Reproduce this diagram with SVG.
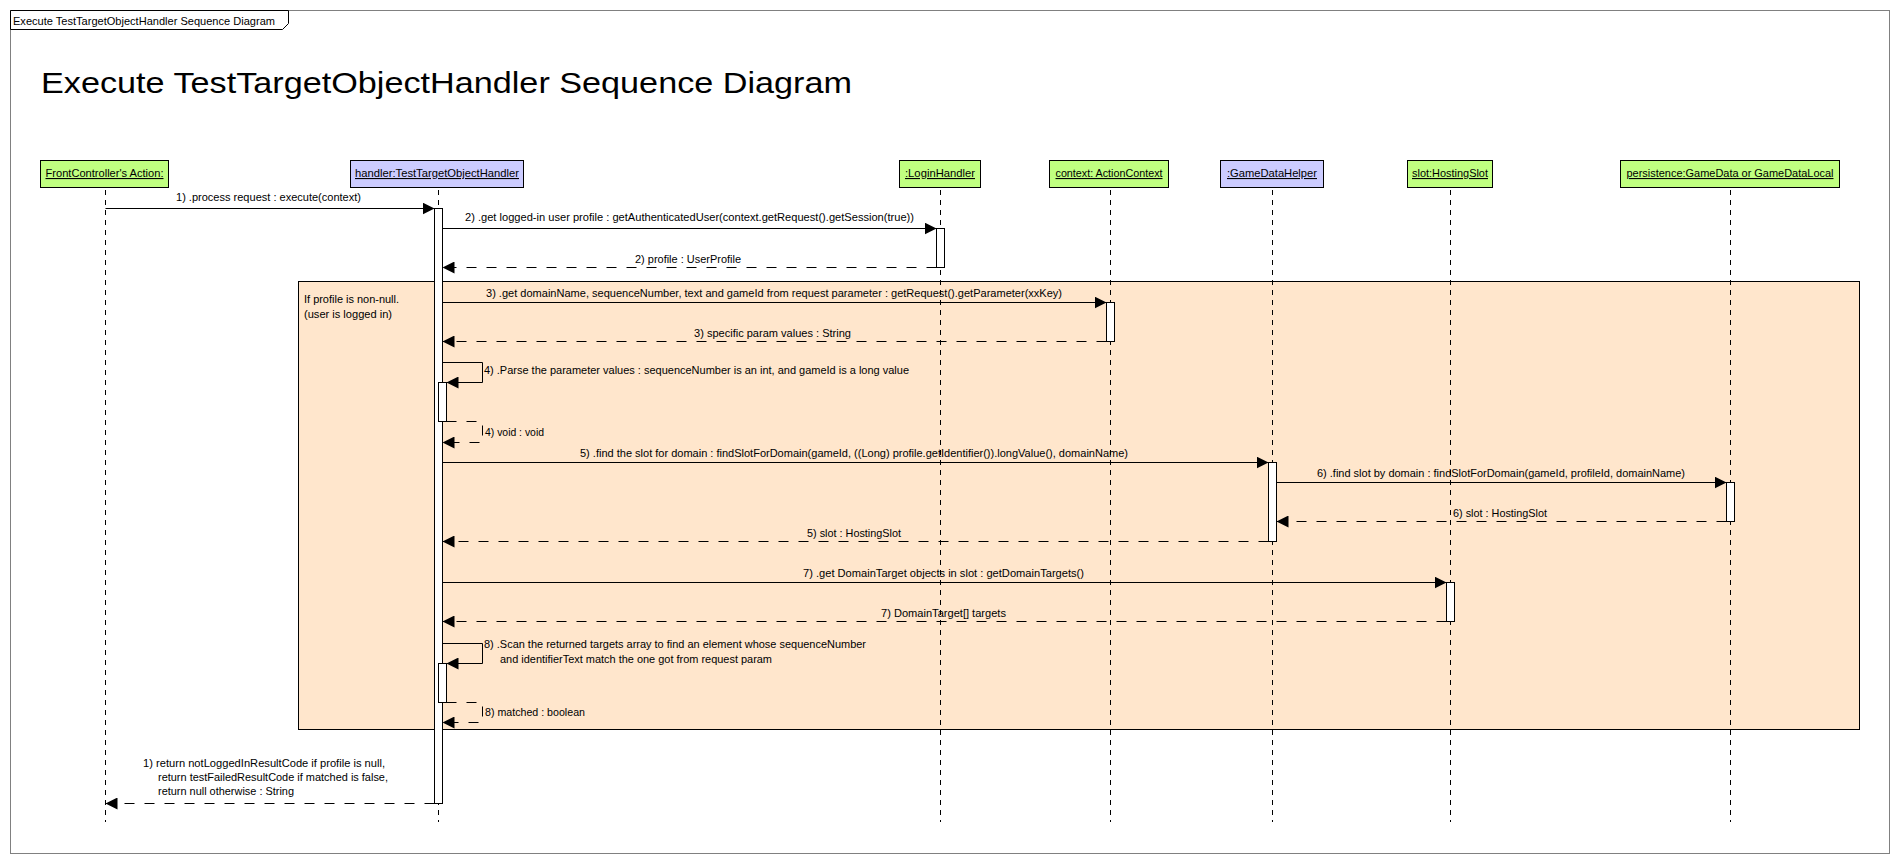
<svg xmlns="http://www.w3.org/2000/svg" width="1900" height="864" viewBox="0 0 1900 864">
<defs>
<style>
text{font-family:"Liberation Sans",Arial,sans-serif;font-size:11px;fill:#000}
.title{font-size:29px}
.box{stroke:#000;stroke-width:1}
.green{fill:#c0ff80}
.blue{fill:#ccccff}
.nlabel{text-anchor:middle;text-decoration:underline}
.life{stroke:#000;stroke-width:1;stroke-dasharray:5 5;fill:none}
.act{fill:#fff;stroke:#000;stroke-width:1}
.msg{stroke:#000;stroke-width:1;fill:none;marker-end:url(#arr)}
.ret{stroke:#000;stroke-width:1;fill:none;stroke-dasharray:10 10;marker-end:url(#arr)}
</style>
<marker id="arr" markerUnits="userSpaceOnUse" markerWidth="12" markerHeight="12" refX="12" refY="6" orient="auto">
<path d="M0,0 L12,6 L0,12 Z" fill="#000" stroke="none"/>
</marker>
</defs>
<rect x="0" y="0" width="1900" height="864" fill="#fff"/>
<g id="frame">
<rect x="10.5" y="10.5" width="1879" height="843" fill="#fff" stroke="#808080"/>
<polygon points="10.5,10.5 288.5,10.5 288.5,23.5 282.5,29.5 10.5,29.5" fill="#fff" stroke="#000"/>
<text x="13" y="25" textLength="262" lengthAdjust="spacingAndGlyphs">Execute TestTargetObjectHandler Sequence Diagram</text>
<text class="title" x="41" y="93" textLength="811" lengthAdjust="spacingAndGlyphs">Execute TestTargetObjectHandler Sequence Diagram</text>
</g>
<g id="fragment">
<rect x="298.5" y="281.5" width="1561" height="448" fill="#ffe6cc" stroke="#000"/>
<text x="304" y="303" textLength="95" lengthAdjust="spacingAndGlyphs">If profile is non-null.</text>
<text x="304" y="318" textLength="88" lengthAdjust="spacingAndGlyphs">(user is logged in)</text>
</g>
<g id="lifelines">
<line class="life" x1="105.5" y1="190" x2="105.5" y2="822"/>
<line class="life" x1="438.5" y1="190" x2="438.5" y2="822"/>
<line class="life" x1="940.5" y1="190" x2="940.5" y2="822"/>
<line class="life" x1="1110.5" y1="190" x2="1110.5" y2="822"/>
<line class="life" x1="1272.5" y1="190" x2="1272.5" y2="822"/>
<line class="life" x1="1450.5" y1="190" x2="1450.5" y2="822"/>
<line class="life" x1="1730.5" y1="190" x2="1730.5" y2="822"/>
</g>
<g id="node-frontcontroller">
<rect class="box green" x="40.5" y="160.5" width="128" height="27"/>
<text class="nlabel" x="104.5" y="177" textLength="118" lengthAdjust="spacingAndGlyphs">FrontController's Action:</text>
</g>
<g id="node-handler">
<rect class="box blue" x="350.5" y="160.5" width="173" height="27"/>
<text class="nlabel" x="437" y="177" textLength="164" lengthAdjust="spacingAndGlyphs">handler:TestTargetObjectHandler</text>
</g>
<g id="node-loginhandler">
<rect class="box green" x="899.5" y="160.5" width="81" height="27"/>
<text class="nlabel" x="940" y="177" textLength="70" lengthAdjust="spacingAndGlyphs">:LoginHandler</text>
</g>
<g id="node-context">
<rect class="box green" x="1049.5" y="160.5" width="119" height="27"/>
<text class="nlabel" x="1109" y="177" textLength="107" lengthAdjust="spacingAndGlyphs">context: ActionContext</text>
</g>
<g id="node-gamedatahelper">
<rect class="box blue" x="1220.5" y="160.5" width="103" height="27"/>
<text class="nlabel" x="1272" y="177" textLength="90" lengthAdjust="spacingAndGlyphs">:GameDataHelper</text>
</g>
<g id="node-slot">
<rect class="box green" x="1407.5" y="160.5" width="85" height="27"/>
<text class="nlabel" x="1450" y="177" textLength="76" lengthAdjust="spacingAndGlyphs">slot:HostingSlot</text>
</g>
<g id="node-persistence">
<rect class="box green" x="1620.5" y="160.5" width="219" height="27"/>
<text class="nlabel" x="1730" y="177" textLength="207" lengthAdjust="spacingAndGlyphs">persistence:GameData or GameDataLocal</text>
</g>
<g id="activations">
<rect class="act" x="434.5" y="208.5" width="8" height="595"/>
<rect class="act" x="936.5" y="228.5" width="8" height="39"/>
<rect class="act" x="1106.5" y="302.5" width="8" height="39"/>
<rect class="act" x="438.5" y="382.5" width="8" height="39"/>
<rect class="act" x="1268.5" y="462.5" width="8" height="79"/>
<rect class="act" x="1726.5" y="482.5" width="8" height="39"/>
<rect class="act" x="1446.5" y="582.5" width="8" height="39"/>
<rect class="act" x="438.5" y="663.5" width="8" height="39"/>
</g>
<g id="connectors">
<line class="msg" x1="105.5" y1="208.5" x2="434.5" y2="208.5"/>
<line class="msg" x1="442.5" y1="228.5" x2="936.5" y2="228.5"/>
<line class="ret" x1="936.5" y1="267.5" x2="442.5" y2="267.5"/>
<line class="msg" x1="442.5" y1="302.5" x2="1106.5" y2="302.5"/>
<line class="ret" x1="1106.5" y1="341.5" x2="442.5" y2="341.5"/>
<path class="msg" d="M442.5,362.5 H482.5 V382.5 H446.5"/>
<path class="ret" d="M446.5,421.5 H482.5 V442.5 H442.5"/>
<line class="msg" x1="442.5" y1="462.5" x2="1268.5" y2="462.5"/>
<line class="msg" x1="1276.5" y1="482.5" x2="1726.5" y2="482.5"/>
<line class="ret" x1="1726.5" y1="521.5" x2="1276.5" y2="521.5"/>
<line class="ret" x1="1268.5" y1="541.5" x2="442.5" y2="541.5"/>
<line class="msg" x1="442.5" y1="582.5" x2="1446.5" y2="582.5"/>
<line class="ret" x1="1446.5" y1="621.5" x2="442.5" y2="621.5"/>
<path class="msg" d="M442.5,643.5 H482.5 V663.5 H446.5"/>
<path class="ret" d="M446.5,702.5 H482.5 V722.5 H442.5"/>
<line class="ret" x1="434.5" y1="803.5" x2="105.5" y2="803.5"/>
</g>
<g id="labels">
<text x="176" y="201" textLength="185" lengthAdjust="spacingAndGlyphs">1) .process request : execute(context)</text>
<text x="465" y="221" textLength="449" lengthAdjust="spacingAndGlyphs">2) .get logged-in user profile : getAuthenticatedUser(context.getRequest().getSession(true))</text>
<text x="635" y="263" textLength="106" lengthAdjust="spacingAndGlyphs">2) profile : UserProfile</text>
<text x="486" y="297" textLength="576" lengthAdjust="spacingAndGlyphs">3) .get domainName, sequenceNumber, text and gameId from request parameter : getRequest().getParameter(xxKey)</text>
<text x="694" y="337" textLength="157" lengthAdjust="spacingAndGlyphs">3) specific param values : String</text>
<text x="484" y="374" textLength="425" lengthAdjust="spacingAndGlyphs">4) .Parse the parameter values : sequenceNumber is an int, and gameId is a long value</text>
<text x="485" y="436" textLength="59" lengthAdjust="spacingAndGlyphs">4) void : void</text>
<text x="580" y="457" textLength="548" lengthAdjust="spacingAndGlyphs">5) .find the slot for domain : findSlotForDomain(gameId, ((Long) profile.getIdentifier()).longValue(), domainName)</text>
<text x="1317" y="477" textLength="368" lengthAdjust="spacingAndGlyphs">6) .find slot by domain : findSlotForDomain(gameId, profileId, domainName)</text>
<text x="1453" y="517" textLength="94" lengthAdjust="spacingAndGlyphs">6) slot : HostingSlot</text>
<text x="807" y="537" textLength="94" lengthAdjust="spacingAndGlyphs">5) slot : HostingSlot</text>
<text x="803" y="577" textLength="281" lengthAdjust="spacingAndGlyphs">7) .get DomainTarget objects in slot : getDomainTargets()</text>
<text x="881" y="617" textLength="125" lengthAdjust="spacingAndGlyphs">7) DomainTarget[] targets</text>
<text x="484" y="648" textLength="382" lengthAdjust="spacingAndGlyphs">8) .Scan the returned targets array to find an element whose sequenceNumber</text>
<text x="500" y="663" textLength="272" lengthAdjust="spacingAndGlyphs">and identifierText match the one got from request param</text>
<text x="485" y="716" textLength="100" lengthAdjust="spacingAndGlyphs">8) matched : boolean</text>
<text x="143" y="767" textLength="242" lengthAdjust="spacingAndGlyphs">1) return notLoggedInResultCode if profile is null,</text>
<text x="158" y="781" textLength="230" lengthAdjust="spacingAndGlyphs">return testFailedResultCode if matched is false,</text>
<text x="158" y="795" textLength="136" lengthAdjust="spacingAndGlyphs">return null otherwise : String</text>
</g>
</svg>
